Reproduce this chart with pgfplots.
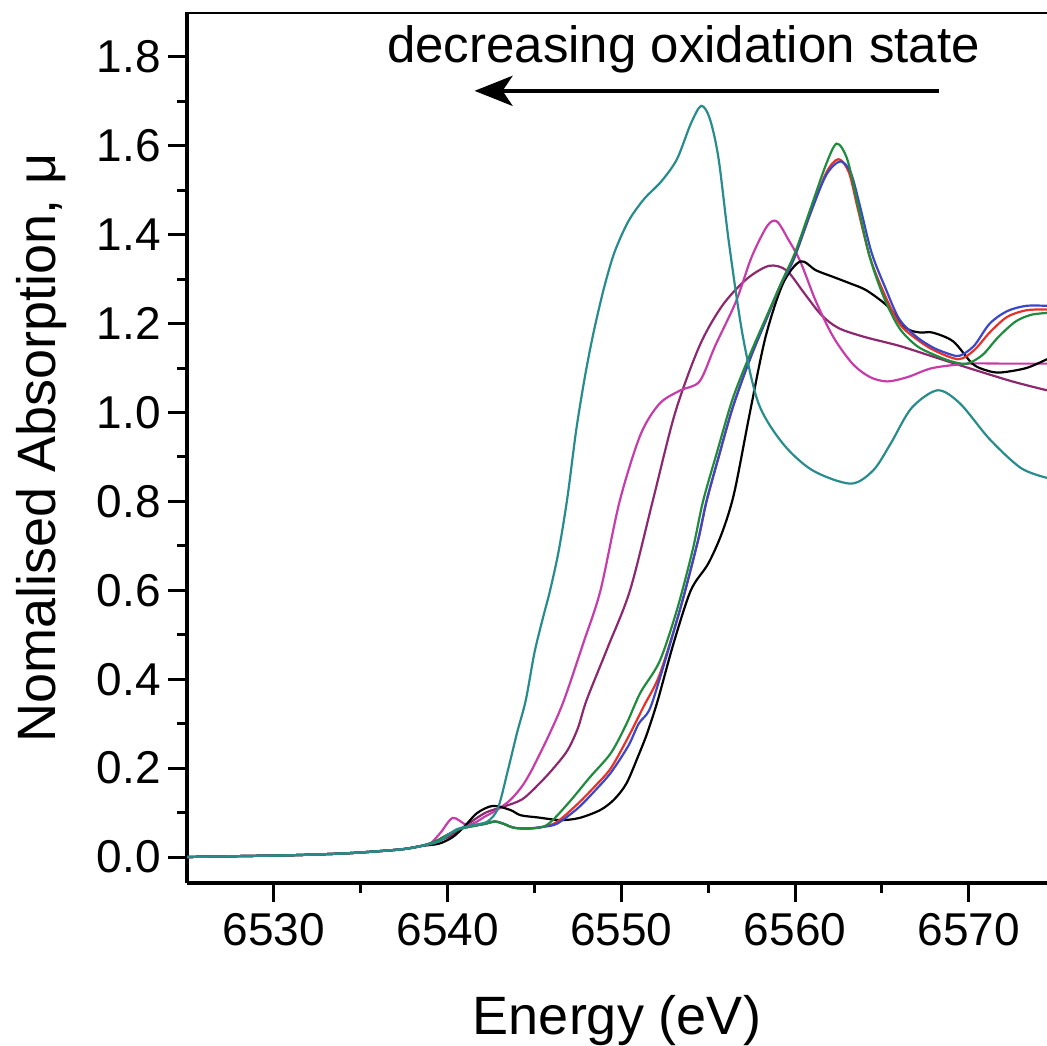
\documentclass[border=0pt]{standalone}
\usepackage{pgfplots}
\pgfplotsset{compat=1.18}
\usepackage{fontspec}
\setmainfont{Liberation Sans}
\usetikzlibrary{arrows.meta}
\definecolor{cteal}{RGB}{40,140,140}
\definecolor{cmag}{RGB}{200,60,170}
\definecolor{cplum}{RGB}{140,40,110}
\definecolor{cgreen}{RGB}{30,140,60}
\definecolor{cred}{RGB}{230,50,40}
\definecolor{cblue}{RGB}{60,70,200}
\begin{document}
\begin{tikzpicture}
\useasboundingbox (0,0) rectangle (523.5pt,522.5pt);
\begin{axis}[
  at={(93.5pt,81pt)}, anchor=south west,
  scale only axis, width=430pt, height=435.25pt,
  xmin=6525, xmax=6574.5, ymin=-0.0585, ymax=1.9,
  axis x line*=bottom, axis y line*=left,
  axis line style={line width=2pt},
  xtick={6530,6540,6550,6560,6570},
  ytick={0,0.2,0.4,0.6,0.8,1.0,1.2,1.4,1.6,1.8},
  minor x tick num=1, minor y tick num=1,
  tick align=outside, major tick length=9.5pt, minor tick length=5pt,
  every tick/.style={black, line width=1.5pt},
  tick label style={font=\fontsize{23}{23}\selectfont},
  /pgf/number format/assume math mode=true,
  xticklabel style={/pgf/number format/set thousands separator={}, yshift=-2pt},
  yticklabel style={/pgf/number format/.cd, fixed, fixed zerofill, precision=1},
  xlabel={Energy (eV)}, ylabel={Nomalised Absorption, μ},
  label style={font=\fontsize{27}{27}\selectfont},
  xlabel style={at={(axis description cs:0.5,-0.1735)}, anchor=base},
  ylabel style={at={(axis description cs:-0.1533,0.5)}, anchor=base},
  every axis plot/.append style={line width=1.1pt, smooth, no marks},
]
% plum
\addplot[cplum] coordinates {(6525,0) (6528,0.002) (6531,0.004) (6534,0.008) (6536,0.013) (6537.5,0.018) (6538.5,0.025) (6539.4,0.035) (6540.3,0.05) (6541.2,0.075) (6542.2,0.1) (6543.2,0.113) (6544.3,0.13) (6545.3,0.166) (6546.1,0.2) (6546.9,0.24) (6547.5,0.29) (6548.0,0.353) (6549.2,0.47) (6550.5,0.6) (6551.8,0.8) (6553.1,1.0) (6554.5,1.15) (6555.8,1.24) (6557.2,1.30) (6558.5,1.33) (6559.5,1.32) (6560.5,1.27) (6561.5,1.22) (6562.5,1.19) (6564,1.17) (6566,1.15) (6568,1.125) (6570,1.10) (6572.5,1.07) (6574.5,1.05)};
% magenta
\addplot[cmag] coordinates {(6525,0) (6528,0.002) (6531,0.004) (6534,0.008) (6536,0.013) (6537.5,0.018) (6538.5,0.025) (6539,0.03) (6539.6,0.055) (6540.3,0.088) (6541.1,0.072) (6541.7,0.08) (6542.1,0.09) (6542.8,0.105) (6543.6,0.128) (6544.3,0.16) (6544.9,0.20) (6545.9,0.28) (6546.7,0.353) (6547.8,0.48) (6548.8,0.6) (6549.9,0.8) (6551.1,0.95) (6552.2,1.02) (6553.4,1.05) (6554.5,1.07) (6555.4,1.15) (6556.6,1.25) (6557.5,1.35) (6558.4,1.42) (6558.95,1.43) (6559.6,1.39) (6560.3,1.34) (6561.2,1.25) (6562.2,1.17) (6563.3,1.11) (6564.3,1.08) (6565.3,1.07) (6566.5,1.08) (6567.9,1.10) (6570,1.11) (6572,1.11) (6574.5,1.11)};
% black
\addplot[black] coordinates {(6525,0) (6528,0.002) (6531,0.004) (6534,0.008) (6536,0.013) (6537.5,0.018) (6538.5,0.025) (6539.5,0.03) (6540.3,0.045) (6541,0.07) (6541.7,0.099) (6542.6,0.115) (6543.6,0.106) (6544.2,0.094) (6545.2,0.089) (6546.5,0.083) (6547.6,0.088) (6548.8,0.106) (6549.6,0.13) (6550.3,0.166) (6551.0,0.23) (6551.5,0.28) (6552.1,0.353) (6553.0,0.48) (6554.0,0.60) (6555.0,0.66) (6555.8,0.73) (6556.5,0.82) (6557.4,1.0) (6558.3,1.17) (6559.3,1.29) (6560.3,1.34) (6561.2,1.32) (6562.2,1.305) (6563.2,1.29) (6564.1,1.275) (6565.3,1.24) (6566.4,1.19) (6567.2,1.18) (6567.9,1.18) (6569.1,1.16) (6570.2,1.11) (6571,1.095) (6571.8,1.09) (6573.3,1.10) (6574.5,1.12)};
% red
\addplot[cred] coordinates {(6525,0) (6528,0.002) (6531,0.004) (6534,0.008) (6536,0.013) (6537.5,0.018) (6538.5,0.025) (6539.3,0.035) (6540,0.05) (6540.7,0.063) (6541.5,0.07) (6542.2,0.075) (6542.7,0.08) (6543.2,0.075) (6543.8,0.066) (6544.6,0.064) (6545.5,0.068) (6546.3,0.079) (6547.5,0.12) (6548.5,0.16) (6549.4,0.20) (6550.4,0.27) (6551.3,0.34) (6552.2,0.41) (6553.4,0.56) (6554.4,0.71) (6554.9,0.80) (6555.6,0.9) (6556.4,1.01) (6557.4,1.12) (6558.4,1.215) (6559.2,1.29) (6559.9,1.343) (6560.9,1.45) (6561.8,1.54) (6562.5,1.57) (6563.1,1.54) (6563.6,1.46) (6564.3,1.35) (6565.1,1.27) (6566,1.2) (6567,1.165) (6568,1.14) (6569.4,1.12) (6570.3,1.14) (6571.2,1.18) (6572.2,1.215) (6573.3,1.23) (6574.5,1.232)};
% blue
\addplot[cblue] coordinates {(6525,0) (6528,0.002) (6531,0.004) (6534,0.008) (6536,0.013) (6537.5,0.018) (6538.5,0.025) (6539.3,0.035) (6540,0.05) (6540.7,0.063) (6541.5,0.07) (6542.2,0.075) (6542.7,0.08) (6543.2,0.075) (6543.8,0.066) (6544.6,0.064) (6545.5,0.068) (6546.3,0.075) (6547.5,0.11) (6548.5,0.15) (6549.4,0.19) (6550.4,0.25) (6551.0,0.30) (6551.6,0.33) (6552.2,0.40) (6553.4,0.56) (6554.4,0.71) (6554.9,0.80) (6555.6,0.9) (6556.4,1.01) (6557.4,1.12) (6558.4,1.215) (6559.2,1.29) (6559.9,1.343) (6560.9,1.45) (6561.8,1.535) (6562.6,1.565) (6563.2,1.54) (6563.7,1.47) (6564.4,1.36) (6565.2,1.28) (6566,1.21) (6567,1.17) (6568,1.145) (6569,1.13) (6569.5,1.128) (6570.3,1.15) (6571.2,1.2) (6572.2,1.228) (6573.3,1.24) (6574.5,1.24)};
% green
\addplot[cgreen] coordinates {(6525,0) (6528,0.002) (6531,0.004) (6534,0.008) (6536,0.013) (6537.5,0.018) (6538.5,0.025) (6539.3,0.035) (6540,0.05) (6540.7,0.063) (6541.5,0.07) (6542.2,0.075) (6542.7,0.08) (6543.2,0.075) (6543.8,0.066) (6544.6,0.064) (6545.5,0.068) (6546.1,0.085) (6547.1,0.128) (6548.2,0.18) (6549.4,0.234) (6550.3,0.30) (6551.1,0.37) (6552.2,0.44) (6553.2,0.556) (6554.1,0.69) (6554.7,0.80) (6555.5,0.91) (6556.4,1.03) (6557.4,1.13) (6558.4,1.22) (6559.3,1.30) (6560,1.36) (6560.9,1.46) (6561.8,1.56) (6562.4,1.605) (6563.0,1.57) (6563.6,1.47) (6564.3,1.35) (6565.1,1.26) (6566,1.19) (6567,1.15) (6568,1.13) (6569,1.115) (6569.9,1.11) (6570.8,1.13) (6571.7,1.17) (6572.7,1.205) (6573.6,1.22) (6574.5,1.224)};
% teal
\addplot[cteal] coordinates {(6525,0) (6528,0.002) (6531,0.004) (6534,0.008) (6536,0.013) (6537.5,0.018) (6538.5,0.025) (6539.5,0.035) (6540.5,0.062) (6541.5,0.072) (6542.3,0.08) (6542.9,0.11) (6543.5,0.2) (6544.0,0.28) (6544.5,0.353) (6545.0,0.46) (6545.5,0.54) (6545.9,0.60) (6546.4,0.69) (6546.9,0.81) (6547.4,0.96) (6547.9,1.08) (6548.4,1.18) (6549.0,1.28) (6549.6,1.36) (6550.4,1.43) (6551.3,1.48) (6552.3,1.52) (6553.2,1.57) (6554.0,1.65) (6554.6,1.69) (6555.1,1.66) (6555.6,1.57) (6556.2,1.38) (6557.0,1.17) (6557.9,1.02) (6559.3,0.93) (6561,0.87) (6563.2,0.84) (6564.5,0.87) (6565.5,0.93) (6566.7,1.01) (6568.2,1.05) (6569.5,1.02) (6571.2,0.94) (6573,0.875) (6574.5,0.853)};
\draw[line width=2pt] (rel axis cs:0,1) -- (rel axis cs:1,1);
\node[anchor=base west, font=\fontsize{25.5}{25.5}\selectfont, inner sep=0pt] at (axis cs:6536.5,1.787) {decreasing oxidation state};
\draw[line width=2pt, -{Stealth[length=19pt, width=15pt, inset=5pt]}] (axis cs:6568.28,1.7237) -- (axis cs:6541.55,1.7237);
\end{axis}
\end{tikzpicture}
\end{document}
